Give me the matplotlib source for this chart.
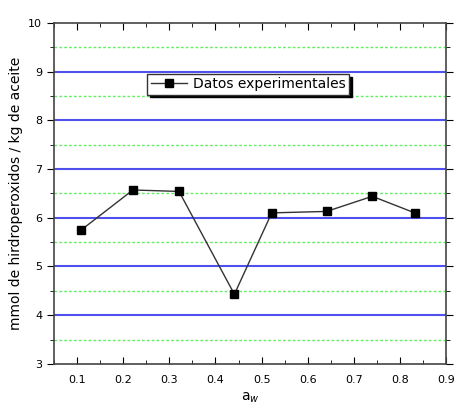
import matplotlib.pyplot as plt
from matplotlib.ticker import MultipleLocator

# data
aw = [0.109, 0.221, 0.321, 0.441, 0.522, 0.641, 0.740, 0.832]
peroxidos = [5.75, 6.57, 6.54, 4.43, 6.10, 6.13, 6.44, 6.10]

fig = plt.figure(figsize=(4.58, 4.15), dpi=100)
ax = fig.add_axes([0.118, 0.123, 0.856, 0.822])

# grid: blue at integers, green dotted at halves
for y in range(4, 10):
    ax.axhline(y, color='#5050ee', lw=1.5, zorder=1)
for y in [3.5, 4.5, 5.5, 6.5, 7.5, 8.5, 9.5]:
    ax.axhline(y, color='#66ee66', lw=1, ls=(0, (2, 1.5)), zorder=1)

ax.plot(aw, peroxidos, '-', color='#333333', lw=1, marker='s', ms=6,
        mfc='black', mec='black', label='Datos experimentales', zorder=3)

ax.set_xlim(0.05, 0.9)
ax.set_ylim(3, 10)
ax.xaxis.set_major_locator(MultipleLocator(0.1))
ax.xaxis.set_minor_locator(MultipleLocator(0.05))
ax.yaxis.set_major_locator(MultipleLocator(1))
ax.yaxis.set_minor_locator(MultipleLocator(0.5))
ax.tick_params(axis='x', which='both', direction='in', top=True, labelsize=8, pad=8)
ax.tick_params(axis='x', which='major', length=5)
ax.tick_params(axis='x', which='minor', length=3)
ax.tick_params(axis='y', which='both', direction='out', right=True, labelsize=8)
ax.tick_params(axis='y', which='major', length=5)
ax.tick_params(axis='y', which='minor', length=3)
for s in ax.spines.values():
    s.set_linewidth(1.2)
    s.set_color('#444444')

ax.set_xlabel('a$_{w}$', fontsize=10)
ax.set_ylabel('mmol de hirdroperoxidos / kg de aceite', fontsize=10)

leg = ax.legend(loc='center', bbox_to_anchor=(0.495, 0.82), fontsize=10,
                fancybox=False, shadow={'color': 'black', 'alpha': 1},
                framealpha=1, edgecolor='#333333',
                handlelength=2.6, borderpad=0.25, handletextpad=0.4)
leg.get_frame().set_linewidth(1)

fig.savefig('out.png', dpi=100)
